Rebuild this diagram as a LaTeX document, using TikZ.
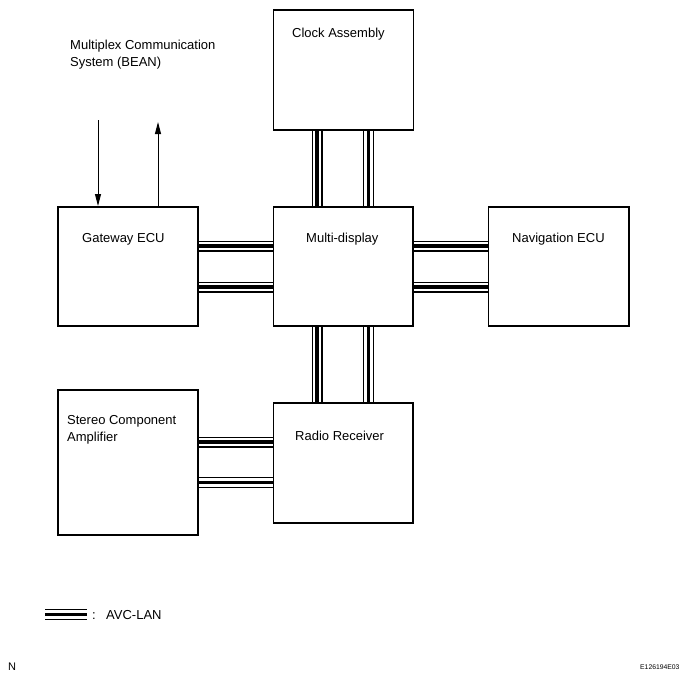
\documentclass[tikz,border=0pt]{standalone}
\usepackage{fontspec}
\setmainfont{Liberation Sans}
\usepackage{tikz}
\usetikzlibrary{arrows.meta,backgrounds}

\begin{document}
\begin{tikzpicture}[x=1pt,y=-1pt,
    every node/.style={font=\fontsize{13}{16.5}\selectfont},
    unit/.style={draw,line width=1.5pt,minimum width=140pt,minimum height=119pt,inner sep=0pt,anchor=north west},
    txt/.style={inner sep=0pt,anchor=base west,align=left},
    avc/.style={line width=11pt,postaction={draw=white,line width=8.6pt},postaction={draw=black,line width=3.6pt}},
    >={Triangle[length=12pt,width=6pt]}]
    \useasboundingbox (0,0) rectangle (689,680);
    % units
    \node[unit,minimum height=120pt] (clock) at (272.5,9) {};
    \node[unit] (gw) at (57,206) {};
    \node[unit,minimum width=139.5pt] (md) at (272.5,206) {};
    \node[unit,minimum width=140.5pt] (nav) at (487.5,206) {};
    \node[unit,minimum height=145pt] (stereo) at (57,389) {};
    \node[unit,minimum width=139.5pt,minimum height=120pt] (radio) at (272.5,402) {};
    % labels (base = last line)
    \node[txt] (beantext) at (70,66) {Multiplex Communication\\System (BEAN)};
    \node[txt] (clocktext) at (292,37.5) {Clock Assembly};
    \node[txt] (gwtext) at (82,242) {Gateway ECU};
    \node[txt] (mdtext) at (306,242) {Multi-display};
    \node[txt] (navtext) at (512,242) {Navigation ECU};
    \node[txt] (stereotext) at (67,441) {Stereo Component\\Amplifier};
    \node[txt] (radiotext) at (295,440) {Radio Receiver};
    % BEAN
    \coordinate (beanin) at (98,120);
    \coordinate (beanout) at (158,122);
    \draw[->,line width=1pt] (beanin) -- (beanin |- gw.north);
    \draw[->,line width=1pt] (beanout |- gw.north) -- (beanout);
    % AVC-LAN
    \coordinate (rr1) at ([yshift=-40pt]radio.north west);
    \coordinate (rr2) at ([yshift=-80.5pt]radio.north west);
    \begin{scope}[on background layer]
        \draw[avc] ([xshift=44.5pt]clock.south west) -- ([xshift=44.5pt]md.north west);
        \draw[avc] ([xshift=96pt]clock.south west) -- ([xshift=96pt]md.north west);
        \draw[avc] ([xshift=44.5pt]md.south west) -- ([xshift=44.5pt]radio.north west);
        \draw[avc] ([xshift=96pt]md.south west) -- ([xshift=96pt]radio.north west);
        \draw[avc] ([yshift=-40pt]gw.north east) -- ([yshift=-40pt]md.north west);
        \draw[avc] ([yshift=-81pt]gw.north east) -- ([yshift=-81pt]md.north west);
        \draw[avc] ([yshift=-40pt]md.north east) -- ([yshift=-40pt]nav.north west);
        \draw[avc] ([yshift=-81pt]md.north east) -- ([yshift=-81pt]nav.north west);
        \draw[avc] (stereo.east |- rr1) -- (rr1);
        \draw[avc] (stereo.east |- rr2) -- (rr2);
    \end{scope}
    % legend
    \coordinate (lega) at (45,614.5);
    \coordinate (legb) at (87,614.5);
    \draw[avc] (lega) -- (legb);
    \node[txt] (legtext) at (92,619) {:\hspace{10.4pt}AVC-LAN};
    \node[txt,font=\fontsize{11}{13}\selectfont] (ntext) at (8,670) {N};
    \node[txt,font=\fontsize{6.8}{8}\selectfont] (figid) at (640,669) {E126194E03};
\end{tikzpicture}
\end{document}
